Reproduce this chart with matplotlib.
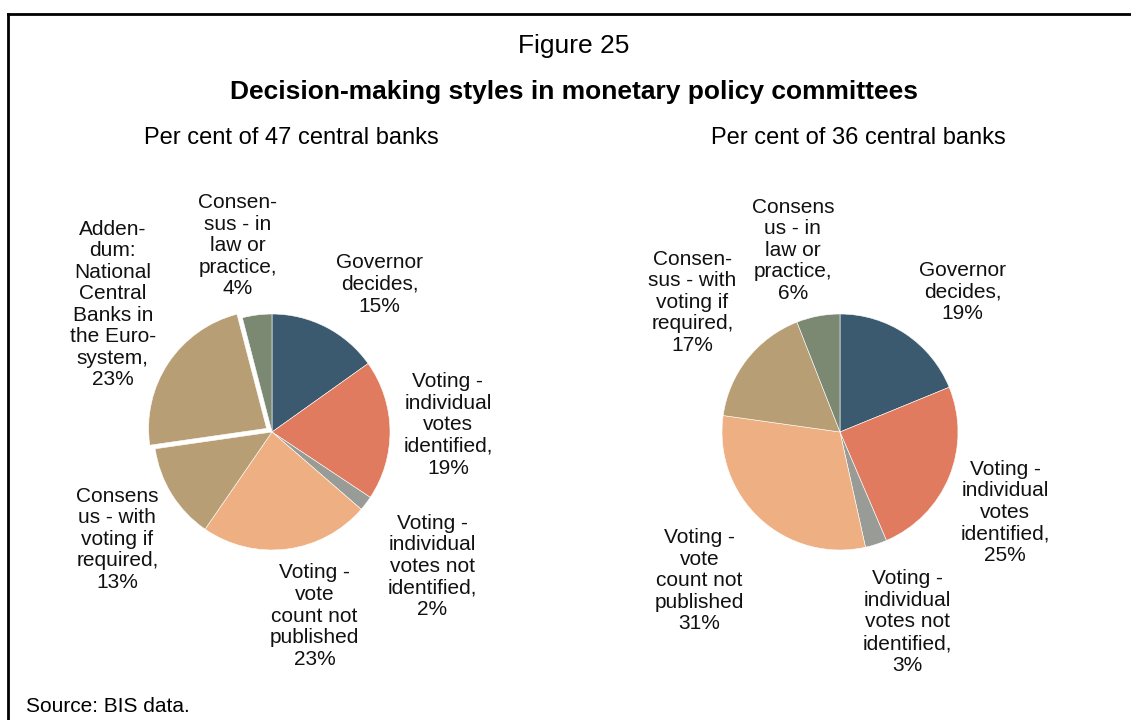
import matplotlib
matplotlib.use("Agg")
import matplotlib.pyplot as plt
from matplotlib.lines import Line2D

plt.rcParams["font.family"] = ["Liberation Sans", "DejaVu Sans"]

# left pie: 47 central banks (clockwise from top)
left_labels = [
    "Governor\ndecides,\n15%",
    "Voting -\nindividual\nvotes\nidentified,\n19%",
    "Voting -\nindividual\nvotes not\nidentified,\n2%",
    "Voting -\nvote\ncount not\npublished\n23%",
    "Consens\nus - with\nvoting if\nrequired,\n13%",
    "Adden-\ndum:\nNational\nCentral\nBanks in\nthe Euro-\nsystem,\n23%",
    "Consen-\nsus - in\nlaw or\npractice,\n4%",
]
left_values = [15, 19, 2, 23, 13, 23, 4]
left_colors = ["#3b5a70", "#e17b5f", "#999b97", "#eeb082", "#b89e74", "#b89e74", "#7b8872"]
left_explode = [0, 0, 0, 0, 0, 0.055, 0]
left_text_pos = [(0.91, 1.25), (1.49, 0.06), (1.36, -1.14), (0.36, -1.56),
                 (-1.31, -0.91), (-1.35, 1.08), (-0.29, 1.58)]

# right pie: 36 central banks
right_labels = [
    "Governor\ndecides,\n19%",
    "Voting -\nindividual\nvotes\nidentified,\n25%",
    "Voting -\nindividual\nvotes not\nidentified,\n3%",
    "Voting -\nvote\ncount not\npublished\n31%",
    "Consen-\nsus - with\nvoting if\nrequired,\n17%",
    "Consens\nus - in\nlaw or\npractice,\n6%",
]
right_values = [19, 25, 3, 31, 17, 6]
right_colors = ["#3b5a70", "#e17b5f", "#999b97", "#eeb082", "#b89e74", "#7b8872"]
right_text_pos = [(1.04, 1.19), (1.40, -0.68), (0.57, -1.61), (-1.19, -1.26),
                  (-1.25, 1.10), (-0.40, 1.54)]

W, H = 1131, 720
R = 118  # pie radius in pixels

fig = plt.figure(figsize=(W / 100, H / 100), dpi=100)


def draw_pie(cx, cy, values, colors, labels, text_pos, explode=None):
    ax = fig.add_axes([(cx - 2 * R) / W, (H - cy - 2 * R) / H, 4 * R / W, 4 * R / H])
    ax.pie(values, colors=colors, startangle=90, counterclock=False,
           explode=explode, radius=1,
           wedgeprops=dict(edgecolor="white", linewidth=0.4))
    ax.set_xlim(-2, 2)
    ax.set_ylim(-2, 2)
    ax.axis("off")
    for lab, (x, y) in zip(labels, text_pos):
        ax.text(x, y, lab, ha="center", va="center", fontsize=15,
                linespacing=1.17, color="#111111")
    return ax


draw_pie(272, 432, left_values, left_colors, left_labels, left_text_pos, left_explode)
draw_pie(840, 432, right_values, right_colors, right_labels, right_text_pos)

fig.text(574 / W, 1 - 46 / H, "Figure 25", ha="center", va="center", fontsize=19)
fig.text(574 / W, 1 - 92 / H, "Decision-making styles in monetary policy committees",
         ha="center", va="center", fontsize=19, fontweight="bold")
fig.text(291 / W, 1 - 138 / H, "Per cent of 47 central banks", ha="center", va="center", fontsize=17)
fig.text(858 / W, 1 - 138 / H, "Per cent of 36 central banks", ha="center", va="center", fontsize=17)
fig.text(26 / W, 1 - 706 / H, "Source: BIS data.", ha="left", va="center", fontsize=15)

# frame lines (top and left)
fig.add_artist(Line2D([8 / W, 1], [1 - 14 / H, 1 - 14 / H], color="black", lw=2, transform=fig.transFigure))
fig.add_artist(Line2D([8 / W, 8 / W], [0, 1 - 14 / H], color="black", lw=2, transform=fig.transFigure))

fig.savefig("out.png", dpi=100)
